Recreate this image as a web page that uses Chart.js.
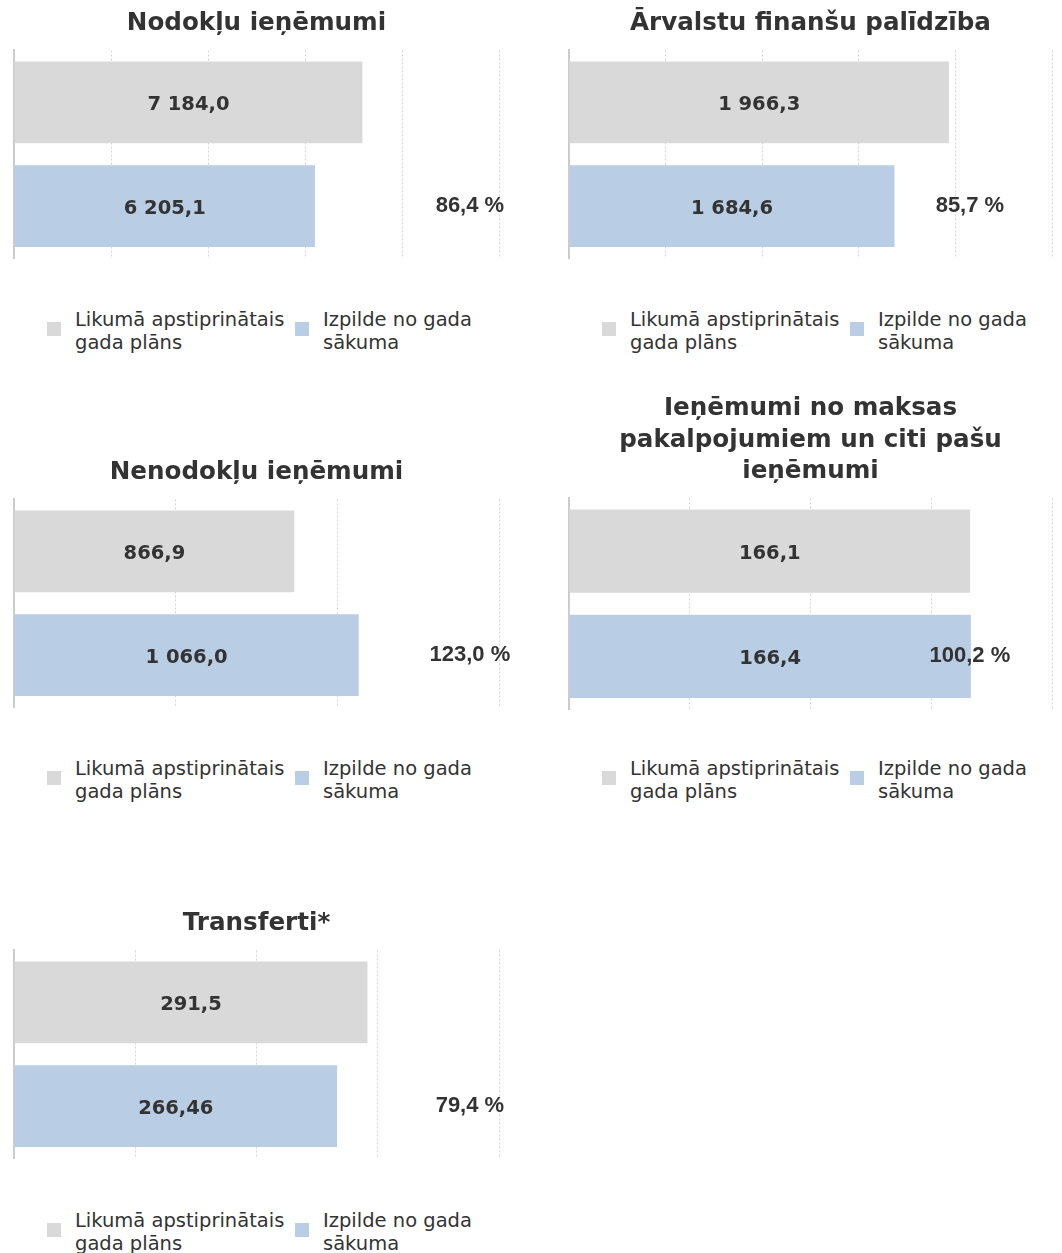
<!DOCTYPE html>
<html><head><meta charset="utf-8">
<script src="https://cdn.jsdelivr.net/npm/chart.js@4.4.1/dist/chart.umd.min.js"></script>
<style>
html,body{margin:0;padding:0;background:#fff;}
body{width:1062px;height:1253px;position:relative;overflow:hidden;font-family:'DejaVu Sans',sans-serif;}
.box{position:absolute;}
.box canvas{display:block;}
.lg{position:absolute;display:flex;color:#333;font-size:19.5px;line-height:23px;font-family:'DejaVu Sans',sans-serif;}
.lg .it{display:flex;align-items:flex-start;flex:none;}
.lg .sw{width:14px;height:14px;margin-top:13.5px;margin-right:14px;flex:none;}
.lg .tx{white-space:pre-line;}
</style></head><body>
<script>
// ---- data ----
const chartTitles = ['Nodokļu ieņēmumi', 'Ārvalstu finanšu palīdzība', 'Nenodokļu ieņēmumi',
  ['Ieņēmumi no maksas', 'pakalpojumiem un citi pašu', 'ieņēmumi'], 'Transferti*'];
const categories = ['Likumā apstiprinātais gada plāns', 'Izpilde no gada sākuma'];
const seriesNames = ['Likumā apstiprinātais\ngada plāns', 'Izpilde no gada\nsākuma'];
const planValues = [7184.0, 1966.3, 866.9, 166.1, 291.5];
const actualValues = [6205.1, 1684.6, 1066.0, 166.4, 266.46];
const percentValues = [86.4, 85.7, 123.0, 100.2, 79.4];
const axisMax = [10000, 2500, 1500, 200, 400];
const axisStep = [2000, 500, 500, 50, 100];

// ---- layout / style ----
const layoutCfg = [
  {left:0,   top:0,   w:530, h:262, padL:14, padR:31, pctX:0.94, lgLeft:47,  lgTop:308},
  {left:530, top:0,   w:532, h:262, padL:39, padR:10, pctX:0.83, lgLeft:602, lgTop:308},
  {left:0,   top:449, w:530, h:262, padL:14, padR:31, pctX:0.94, lgLeft:47,  lgTop:757},
  {left:530, top:385, w:532, h:328, padL:39, padR:10, pctX:0.83, lgLeft:602, lgTop:757},
  {left:0,   top:900, w:530, h:262, padL:14, padR:31, pctX:0.94, lgLeft:47,  lgTop:1209}
];
const colors = ['#d9d9d9', '#b9cde5'];
const textColor = '#333333';

function fmtNum(v) {
  const dec = Math.abs(v * 10 - Math.round(v * 10)) < 1e-6 ? 1 : 2;
  let [i, d] = v.toFixed(dec).split('.');
  i = i.replace(/\B(?=(\d{3})+(?!\d))/g, ' ');
  return i + ',' + d;
}
function fmtPct(v) { return v.toFixed(1).replace('.', ',') + ' %'; }

const barLabels = {
  id: 'barLabels',
  afterDatasetsDraw(chart, args, opts) {
    const ctx = chart.ctx;
    ctx.save();
    ctx.fillStyle = textColor;
    ctx.textAlign = 'center';
    ctx.textBaseline = 'middle';
    ctx.font = 'bold 19.5px "DejaVu Sans"';
    chart.data.datasets.forEach((ds, di) => {
      const meta = chart.getDatasetMeta(di);
      meta.data.forEach((el, i) => {
        const v = ds.data[i];
        if (v === null || v === undefined) return;
        const p = el.getProps(['x', 'y', 'base'], true);
        ctx.fillText(fmtNum(v), (p.x + p.base) / 2, p.y + 3);
      });
    });
    const el = chart.getDatasetMeta(1).data[1];
    const a = chart.chartArea;
    ctx.font = 'bold 22px "Liberation Sans"';
    ctx.fillText(fmtPct(opts.pct), a.left + opts.pctX * (a.right - a.left), el.y);
    ctx.restore();
  }
};

const htmlLegend = {
  id: 'htmlLegend',
  afterUpdate(chart, args, opts) {
    const host = opts.el;
    host.innerHTML = '';
    const items = Chart.defaults.plugins.legend.labels.generateLabels(chart);
    items.forEach((it, k) => {
      const d = document.createElement('div');
      d.className = 'it';
      if (k === 0) d.style.width = '248px';
      const sw = document.createElement('span');
      sw.className = 'sw';
      sw.style.background = it.fillStyle;
      const tx = document.createElement('span');
      tx.className = 'tx';
      tx.textContent = it.text;
      d.appendChild(sw); d.appendChild(tx);
      host.appendChild(d);
    });
  }
};

chartTitles.forEach((title, n) => {
  const L = layoutCfg[n];
  const box = document.createElement('div');
  box.className = 'box';
  box.style.left = L.left + 'px'; box.style.top = L.top + 'px';
  const cv = document.createElement('canvas');
  cv.width = L.w; cv.height = L.h;
  cv.style.width = L.w + 'px'; cv.style.height = L.h + 'px';
  box.appendChild(cv);
  document.body.appendChild(box);
  const lg = document.createElement('div');
  lg.className = 'lg';
  lg.style.left = L.lgLeft + 'px'; lg.style.top = L.lgTop + 'px';
  document.body.appendChild(lg);

  new Chart(cv, {
    type: 'bar',
    data: {
      labels: categories,
      datasets: [
        {label: seriesNames[0], data: [planValues[n], null], backgroundColor: colors[0]},
        {label: seriesNames[1], data: [null, actualValues[n]], backgroundColor: colors[1]}
      ]
    },
    plugins: [barLabels, htmlLegend],
    options: {
      indexAxis: 'y',
      responsive: false,
      animation: false,
      devicePixelRatio: 1,
      datasets: {bar: {grouped: false, categoryPercentage: 1, barPercentage: 0.79, borderWidth: 0}},
      layout: {padding: {left: L.padL, right: L.padR, top: 0, bottom: 4}},
      scales: {
        x: {
          min: 0, max: axisMax[n],
          ticks: {display: false, stepSize: axisStep[n]},
          grid: {color: '#d4d4d4', lineWidth: 1, drawTicks: false, tickLength: 0},
          border: {display: false, dash: [2, 2]}
        },
        y: {
          ticks: {display: false},
          grid: {display: false, drawTicks: false},
          border: {display: true, color: '#cccccc', width: 2}
        }
      },
      plugins: {
        legend: {display: false},
        tooltip: {enabled: false},
        title: {
          display: true, text: title, color: textColor,
          font: {family: '"DejaVu Sans"', size: 24.6, weight: 'bold', lineHeight: 1.28},
          padding: {top: 8, bottom: 11}
        },
        barLabels: {pct: percentValues[n], pctX: L.pctX},
        htmlLegend: {el: lg}
      }
    }
  });
});
</script>
</body></html>
